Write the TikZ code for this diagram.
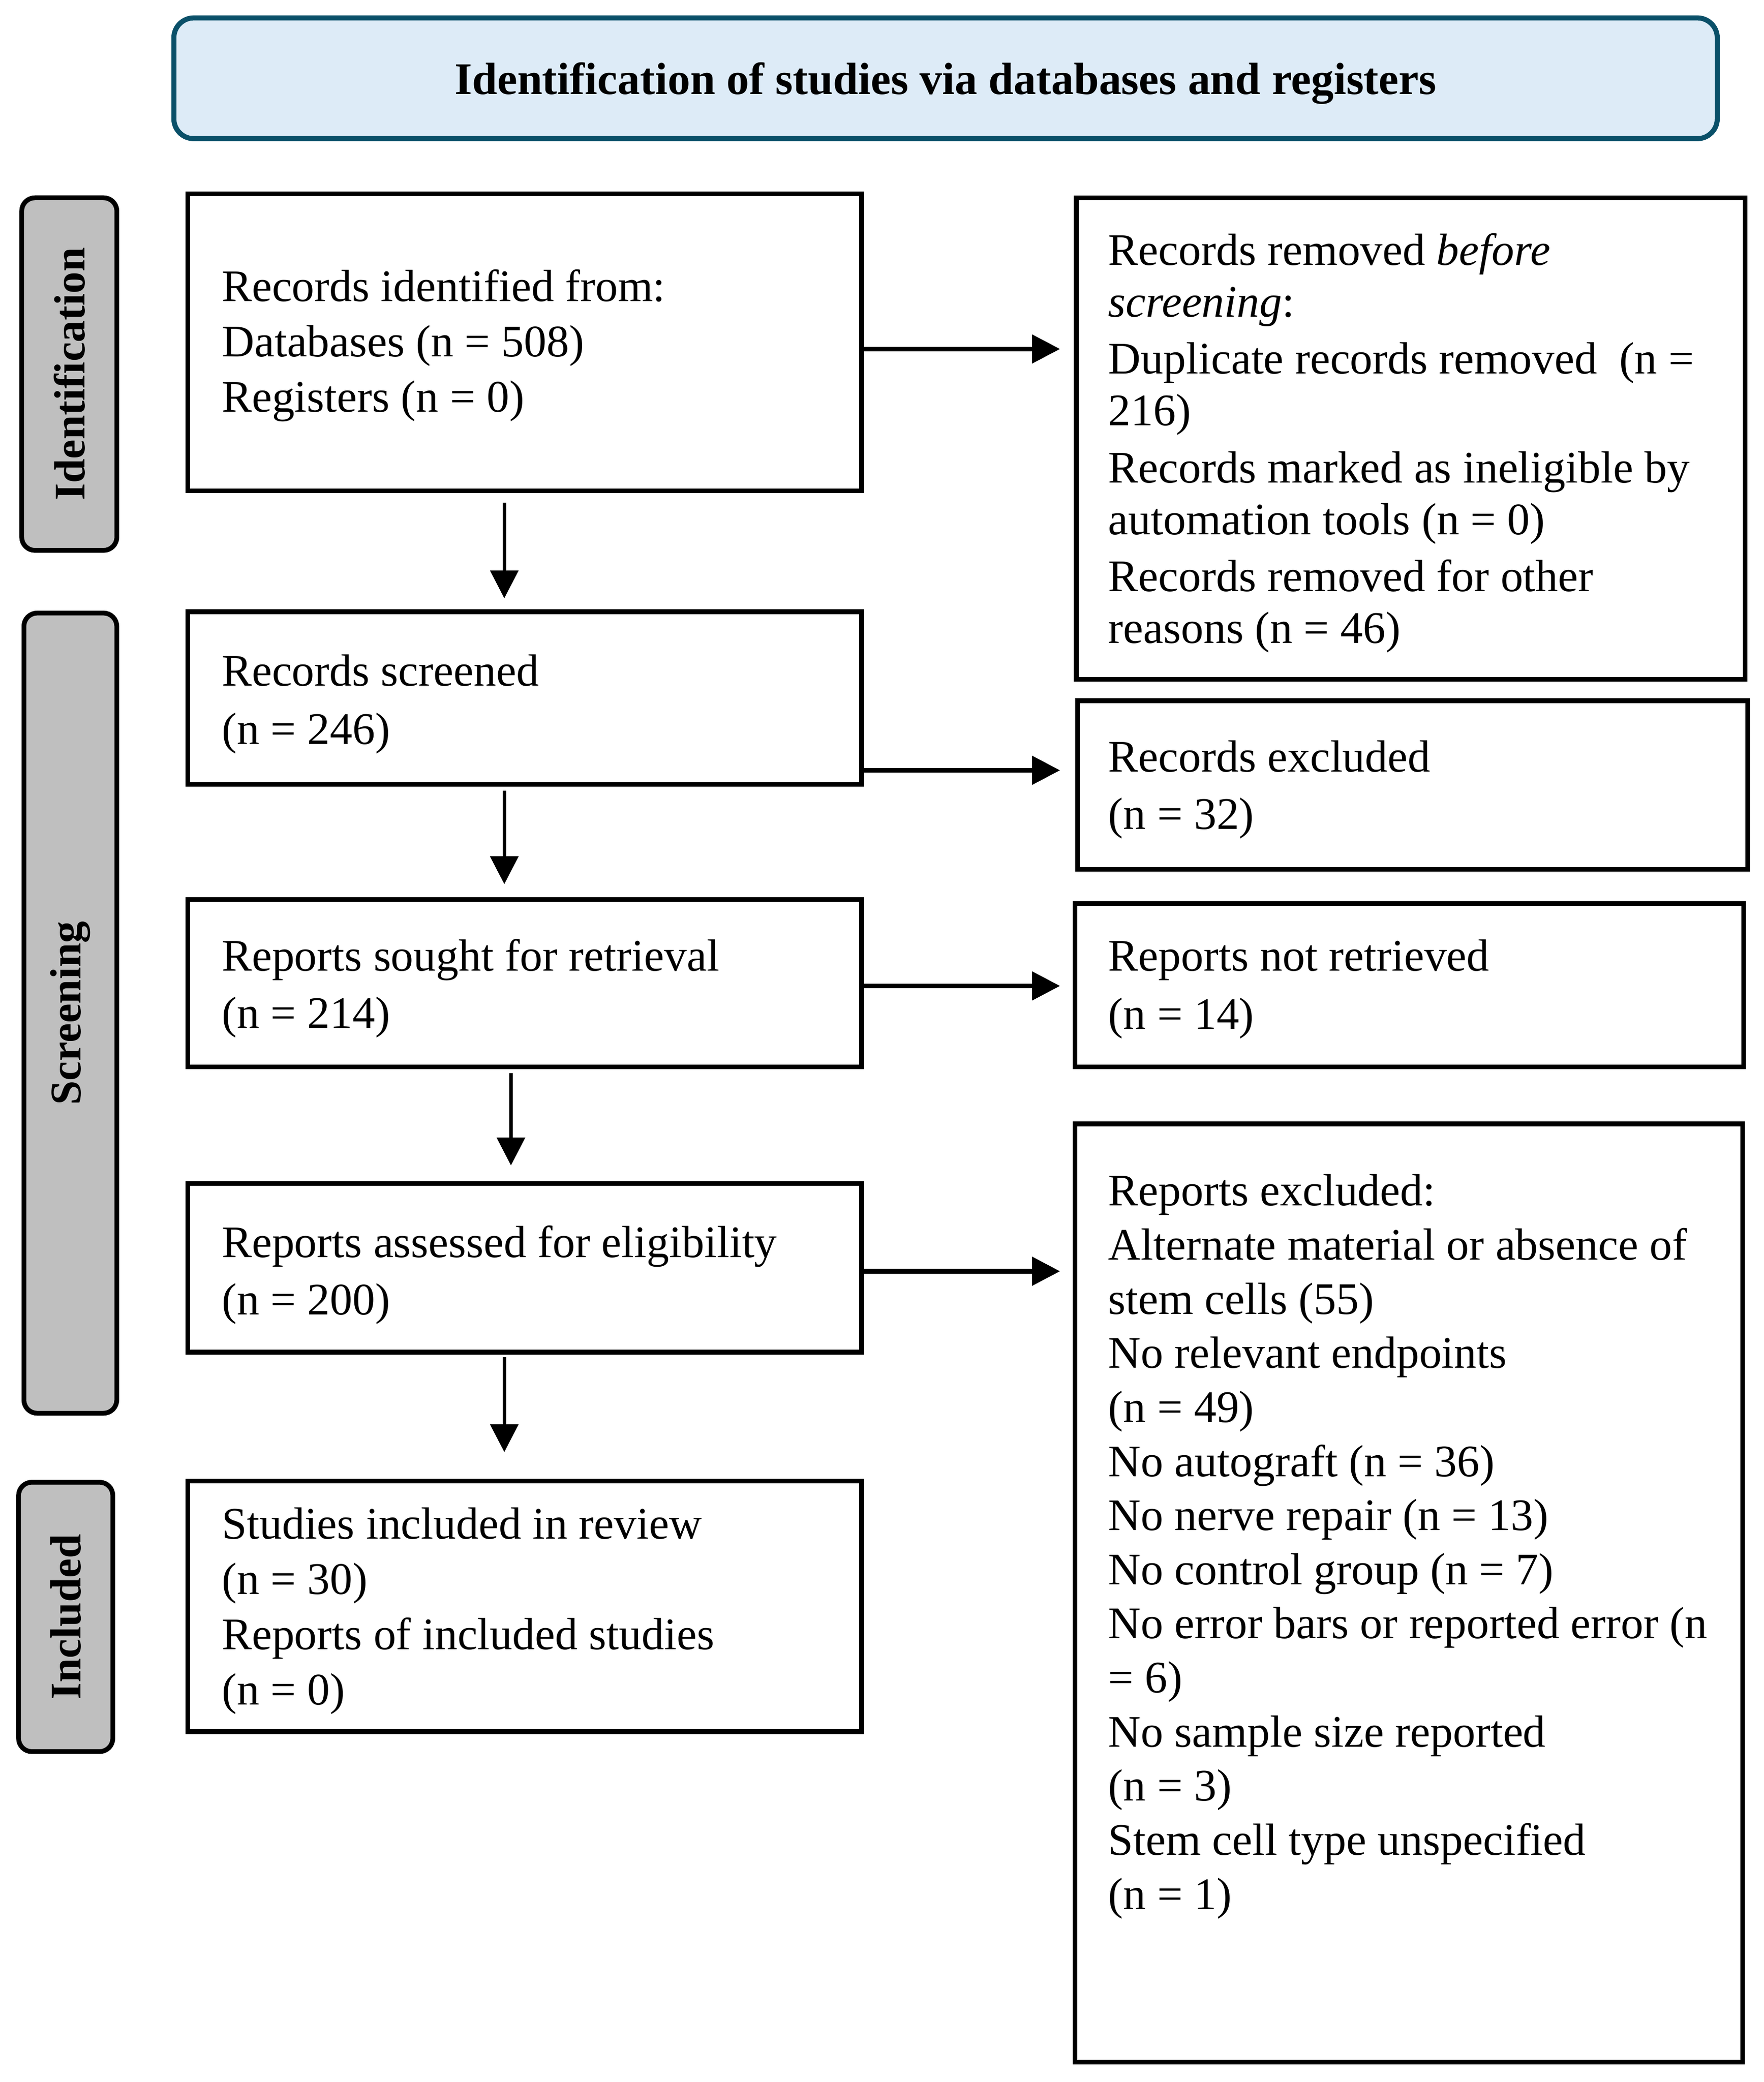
\documentclass[tikz,border=0pt]{standalone}
\usepackage{fontspec}
\setmainfont{Liberation Serif}
\usetikzlibrary{arrows.meta}
\definecolor{hdrfill}{HTML}{DDEBF7}
\definecolor{hdrline}{HTML}{0A5069}
\definecolor{sidefill}{HTML}{BFBFBF}
\newcommand\firstline{\rule{0pt}{30pt}}
\begin{document}
\begin{tikzpicture}[x=1pt,y=-1pt,
  box/.style={draw=black, line width=3.5pt, inner sep=0pt},
  txt/.style={anchor=north west, inner sep=0pt, align=left},
  side/.style={draw=black, line width=3.6pt, fill=sidefill, rounded corners=10pt,
    inner sep=0pt, rotate=90, font=\fontsize{33}{40}\selectfont\bfseries},
  harr/.style={line width=3.5pt, -{Triangle[length=21pt,width=21pt]}},
  varr/.style={line width=2.6pt, -{Triangle[length=21pt,width=21pt]}},
]
\useasboundingbox (0,0) rectangle (1329,1569);
\fill[white] (0,0) rectangle (1329,1569);

% header
\node[draw=hdrline, fill=hdrfill, line width=3.8pt, rounded corners=15pt,
  minimum width=1163pt, minimum height=91pt, inner sep=0pt,
  text height=30pt, text depth=6.2pt,
  font=\fontsize{34}{40}\selectfont\bfseries] (hdr) at (712.5,59)
  {Identification of studies via databases and registers};

% side labels
\node[side, minimum width=265.7pt, minimum height=71.7pt] (s1) at (52.2,281.9) {Identification};
\node[side, minimum width=603pt, minimum height=70pt] (s2) at (53,763.5) {Screening};
\node[side, minimum width=203pt, minimum height=71pt] (s3) at (49.5,1218.5) {Included};

% left boxes
\node[box, minimum width=507.8pt, minimum height=224pt] (b1) at (395.4,258) {};
\node[box, minimum width=507.8pt, minimum height=130pt] (b2) at (395.4,526) {};
\node[box, minimum width=507.8pt, minimum height=126pt] (b3) at (395.4,741) {};
\node[box, minimum width=507.8pt, minimum height=127pt] (b4) at (395.4,955.5) {};
\node[box, minimum width=507.8pt, minimum height=189pt] (b5) at (395.4,1210.5) {};

% right boxes
\node[box, minimum width=504pt, minimum height=363pt] (rm) at (1063,330.5) {};
\node[box, minimum width=505pt, minimum height=127pt] (rex) at (1064.5,591.5) {};
\node[box, minimum width=504pt, minimum height=123pt] (rnr) at (1062,742.5) {};
\node[box, minimum width=503pt, minimum height=707pt] (rep) at (1061.5,1200.5) {};

% texts of left boxes
\node[txt, font=\fontsize{34}{41.8}\selectfont] (b1t) at (167,196.7)
  {\firstline Records identified from:\\ Databases (n = 508)\\ Registers (n = 0)};
\node[txt, font=\fontsize{34}{44}\selectfont] (b2t) at (167,486.5)
  {\firstline Records screened\\ (n = 246)};
\node[txt, font=\fontsize{34}{43}\selectfont] (b3t) at (167,701.5)
  {\firstline Reports sought for retrieval\\ (n = 214)};
\node[txt, font=\fontsize{34}{43}\selectfont] (b4t) at (167,917.5)
  {\firstline Reports assessed for eligibility\\ (n = 200)};
\node[txt, font=\fontsize{34}{41.7}\selectfont] (b5t) at (167,1129.5)
  {\firstline Studies included in review\\ (n = 30)\\ Reports of included studies\\ (n = 0)};

% texts of right boxes
\node[txt, font=\fontsize{34}{39}\selectfont] (rmt) at (835,169.5)
  {\firstline Records removed \textit{before}\\ \textit{screening}:\\[4pt]
   Duplicate records removed\ \ (n =\\ 216)\\[4pt]
   Records marked as ineligible by\\ automation tools (n = 0)\\[4pt]
   Records removed for other\\ reasons (n = 46)};
\node[txt, font=\fontsize{34}{43}\selectfont] (rext) at (835,551.5)
  {\firstline Records excluded\\ (n = 32)};
\node[txt, font=\fontsize{34}{44}\selectfont] (rnrt) at (835,701.5)
  {\firstline Reports not retrieved\\ (n = 14)};
\node[txt, font=\fontsize{34}{40.77}\selectfont] (rept) at (835,878.5)
  {\firstline Reports excluded:\\ Alternate material or absence of\\ stem cells (55)\\
   No relevant endpoints\\ (n = 49)\\ No autograft (n = 36)\\ No nerve repair (n = 13)\\
   No control group (n = 7)\\ No error bars or reported error (n\\ = 6)\\
   No sample size reported\\ (n = 3)\\ Stem cell type unspecified\\ (n = 1)};

% vertical arrows
\draw[varr, shorten <=7pt, shorten >=8.4pt] ([xshift=-15.4pt]b1.south) -- ([xshift=-15.4pt]b2.north);
\draw[varr, shorten <=3pt, shorten >=10pt] ([xshift=-15.4pt]b2.south) -- ([xshift=-15.4pt]b3.north);
\draw[varr, shorten <=3pt, shorten >=12pt] ([xshift=-10.4pt]b3.south) -- ([xshift=-10.4pt]b4.north);
\draw[varr, shorten <=2pt, shorten >=20pt] ([xshift=-15.4pt]b4.south) -- ([xshift=-15.4pt]b5.north);

% horizontal arrows
\draw[harr, shorten >=10.5pt] (b1.east |- 0,263) -- (rm.west |- 0,263);
\draw[harr, shorten >=11.5pt] (b2.east |- 0,580.5) -- (rex.west |- 0,580.5);
\draw[harr, shorten >=9.5pt] (b3.east |- 0,743) -- (rnr.west |- 0,743);
\draw[harr, shorten >=9.5pt] (b4.east |- 0,958) -- (rep.west |- 0,958);
\end{tikzpicture}
\end{document}
